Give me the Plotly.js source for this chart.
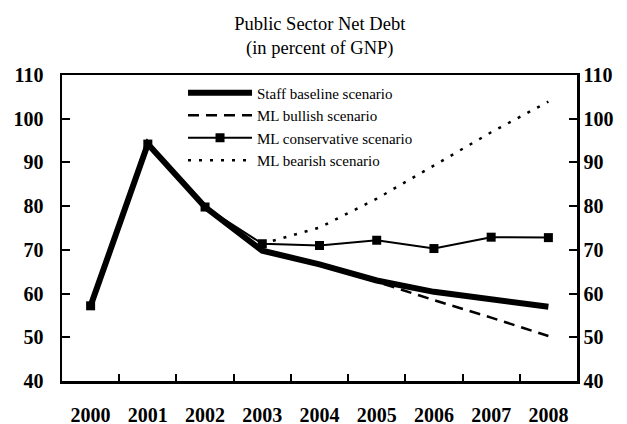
<!DOCTYPE html>
<html>
<head>
<meta charset="utf-8">
<script src="https://cdn.plot.ly/plotly-3.0.1.min.js"></script>
<style>html,body{margin:0;padding:0;background:#fff;}#chart{width:627px;height:424px;}</style>
</head>
<body>
<div id="chart"></div>
<script>
var years = ["2000","2001","2002","2003","2004","2005","2006","2007","2008"];
var staffBaseline = [57.2, 94.2, 79.8, 69.8, 66.7, 63.0, 60.4, 58.6, 57.0];
var mlBullish = [null, null, null, 69.8, 66.6, 62.7, 58.5, 54.5, 50.3];
var mlConservative = [57.2, 94.2, 79.8, 71.4, 71.0, 72.2, 70.3, 72.9, 72.8];
var mlBearish = [null, null, null, 71.4, 75.1, 81.7, 89.3, 96.9, 103.9];
var yTicks = [40, 50, 60, 70, 80, 90, 100, 110];

var serif = "Liberation Serif, Times New Roman, serif";

var traces = [
  {x: years, y: mlConservative, type: "scatter", mode: "lines+markers", name: "ML conservative scenario",
   line: {color: "#000", width: 2}, marker: {symbol: "square", size: 9, color: "#000"}, legendrank: 3},
  {x: years, y: mlBearish, type: "scatter", mode: "lines", name: "ML bearish scenario",
   line: {color: "#000", width: 2.5, dash: "3px,8px"}, legendrank: 4},
  {x: years, y: mlBullish, type: "scatter", mode: "lines", name: "ML bullish scenario",
   line: {color: "#000", width: 2.5, dash: "11px,7px"}, legendrank: 2},
  {x: years, y: staffBaseline, type: "scatter", mode: "lines", name: "Staff baseline scenario",
   line: {color: "#000", width: 6}, legendrank: 1},
  {x: years, y: staffBaseline, type: "scatter", mode: "lines", yaxis: "y2", showlegend: false,
   hoverinfo: "skip", line: {color: "rgba(0,0,0,0)", width: 0}}
];

var layout = {
  width: 627, height: 424,
  margin: {l: 62, r: 50, t: 75, b: 43},
  paper_bgcolor: "#fff", plot_bgcolor: "#fff",
  font: {family: serif, color: "#000"},
  title: {text: "Public Sector Net Debt<br>(in percent of GNP)", font: {family: serif, size: 18.5, color: "#000"},
          x: 0.51, xanchor: "center", y: 0.93, yanchor: "top"},
  showlegend: true,
  legend: {x: 0.235, y: 0.995, xanchor: "left", yanchor: "top", bgcolor: "rgba(0,0,0,0)",
           font: {family: serif, size: 15, color: "#000"}, itemwidth: 64, tracegroupgap: 0},
  xaxis: {type: "category", range: [-0.5, 8.5], tickson: "boundaries", ticks: "inside", ticklen: 7, tickwidth: 2,
          tickcolor: "#000", showline: true, linecolor: "#000", linewidth: 2.5, mirror: true,
          showgrid: false, zeroline: false, fixedrange: true, ticklabelstandoff: 14,
          tickfont: {family: serif, size: 20, color: "#000", weight: "bold"}},
  yaxis: {range: [40, 110], tickvals: yTicks, ticks: "inside", ticklen: 8, tickwidth: 2, tickcolor: "#000",
          showline: true, linecolor: "#000", linewidth: 2.5, showgrid: false, zeroline: false,
          ticklabelstandoff: 12,
          tickfont: {family: serif, size: 20, color: "#000", weight: "bold"}},
  yaxis2: {range: [40, 110], tickvals: yTicks, overlaying: "y", side: "right", ticks: "inside", ticklen: 8,
           tickwidth: 2, tickcolor: "#000", showline: true, linecolor: "#000", linewidth: 2.5,
           showgrid: false, zeroline: false,
           tickfont: {family: serif, size: 20, color: "#000", weight: "bold"}}
};

Plotly.newPlot("chart", traces, layout, {displayModeBar: false, staticPlot: true});
</script>
</body>
</html>
